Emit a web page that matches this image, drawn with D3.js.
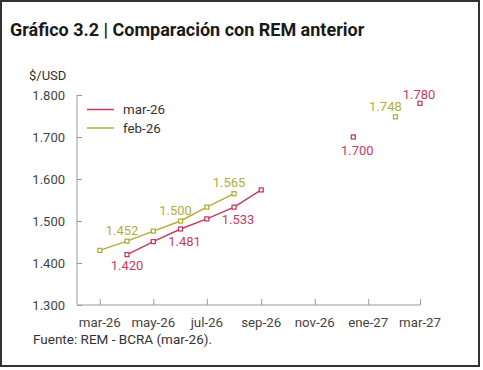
<!DOCTYPE html>
<html>
<head>
<meta charset="utf-8">
<script src="https://cdn.jsdelivr.net/npm/d3@7.9.0/dist/d3.min.js"></script>
<style>
  body { margin: 0; background: #fff; }
  svg { display: block; font-family: Roboto, "Noto Sans", sans-serif; }
</style>
</head>
<body>
<svg id="chart" width="483" height="370"></svg>
<script>
// month names used on the x axis
const monthNames = ['ene', 'feb', 'mar', 'abr', 'may', 'jun', 'jul', 'ago', 'sep', 'oct', 'nov', 'dic'];
const yTicks = [1300, 1400, 1500, 1600, 1700, 1800];

// REM mar-26: monthly path + annual points
const marDates = ['2026-04-01', '2026-05-01', '2026-06-01', '2026-07-01', '2026-08-01', '2026-09-01'];
const marValues = [1420, 1451, 1481, 1505, 1533, 1574];
const marExtraDates = ['2026-12-15', '2027-03-01'];
const marExtraValues = [1700, 1780];

// REM feb-26
const febDates = ['2026-03-01', '2026-04-01', '2026-05-01', '2026-06-01', '2026-07-01', '2026-08-01'];
const febValues = [1430, 1452, 1476, 1500, 1533, 1565];
const febExtraDates = ['2027-02-01'];
const febExtraValues = [1748];

// which points carry a value label
const marLabelIdx = [0, 2, 4];
const febLabelIdx = [1, 3, 5];

const crimson = '#c23d63';
const olive = '#b3ae38';

const parse = d3.timeParse('%Y-%m-%d');
const svg = d3.select('#chart');

// frame
svg.append('rect')
  .attr('x', 1).attr('y', 1).attr('width', 478).attr('height', 365)
  .attr('fill', '#fff').attr('stroke', '#333').attr('stroke-width', 2);

svg.append('text')
  .attr('x', 10).attr('y', 36)
  .attr('font-size', 18).attr('font-weight', 'bold').attr('fill', '#1a1a1a')
  .text('Gráfico 3.2 | Comparación con REM anterior');

const x = d3.scaleTime()
  .domain([parse('2026-02-03'), parse('2027-03-01')])
  .range([77, 420]);
const y = d3.scaleLinear().domain([1300, 1800]).range([305, 95]);

// y axis
const yAxis = svg.append('g').attr('transform', 'translate(77,0)')
  .call(d3.axisRight(y).tickValues(yTicks).tickSize(5).tickFormat(''));
yAxis.select('.domain').attr('stroke', '#999').attr('d', 'M0,95V305');
yAxis.selectAll('.tick line').attr('stroke', '#999');

svg.selectAll('.ylab').data(yTicks).join('text')
  .attr('class', 'ylab')
  .attr('x', 65).attr('y', d => y(d) + 4.5)
  .attr('text-anchor', 'end').attr('font-size', 13).attr('fill', '#444')
  .text(d => d3.format(',')(d).replace(',', '.'));

svg.append('text')
  .attr('x', 29).attr('y', 80)
  .attr('font-size', 13).attr('fill', '#333')
  .text('$/USD');

// x axis
const xAxis = svg.append('g').attr('transform', 'translate(0,305)')
  .call(d3.axisTop(x).ticks(d3.timeMonth.every(2)).tickSize(6).tickFormat(''));
xAxis.select('.domain').attr('stroke', '#999').attr('d', 'M77,0H420');
xAxis.selectAll('.tick line').attr('stroke', '#999');

const xTickDates = x.ticks(d3.timeMonth.every(2));
svg.selectAll('.xlab').data(xTickDates).join('text')
  .attr('class', 'xlab')
  .attr('x', d => x(d)).attr('y', 327)
  .attr('text-anchor', 'middle').attr('font-size', 13.3).attr('fill', '#444')
  .text(d => monthNames[d.getMonth()] + '-' + String(d.getFullYear()).slice(2));

// series
const line = d3.line().x(d => x(d[0])).y(d => y(d[1]));

function drawSeries(dates, values, extraDates, extraValues, color) {
  const pts = dates.map((d, i) => [parse(d), values[i]]);
  const extra = extraDates.map((d, i) => [parse(d), extraValues[i]]);
  svg.append('path').datum(pts)
    .attr('d', line).attr('fill', 'none')
    .attr('stroke', color).attr('stroke-width', 1.5);
  svg.append('g').selectAll('rect').data(pts.concat(extra)).join('rect')
    .attr('x', d => x(d[0]) - 2).attr('y', d => y(d[1]) - 2)
    .attr('width', 4).attr('height', 4)
    .attr('fill', '#fff').attr('stroke', color).attr('stroke-width', 1.3);
  return { pts, extra };
}

const mar = drawSeries(marDates, marValues, marExtraDates, marExtraValues, crimson);
const feb = drawSeries(febDates, febValues, febExtraDates, febExtraValues, olive);

const fmt = v => d3.format(',')(v).replace(',', '.');

function addLabel(p, color, dx, dy) {
  svg.append('text')
    .attr('x', x(p[0]) + dx).attr('y', y(p[1]) + dy)
    .attr('text-anchor', 'middle').attr('font-size', 13).attr('fill', color)
    .text(fmt(p[1]));
}

marLabelIdx.forEach(i => addLabel(mar.pts[i], crimson, i === 0 ? 0 : 4, i === 0 ? 15 : 17));
febLabelIdx.forEach(i => addLabel(feb.pts[i], olive, -5, -6.5));
addLabel(mar.extra[0], crimson, 4, 18);
addLabel(mar.extra[1], crimson, -1, -4.5);
addLabel(feb.extra[0], olive, -10, -6);

// legend
const legend = [['mar-26', crimson], ['feb-26', olive]];
legend.forEach(([name, color], i) => {
  const ly = 109.5 + i * 18.5;
  svg.append('line')
    .attr('x1', 87).attr('x2', 114).attr('y1', ly).attr('y2', ly)
    .attr('stroke', color).attr('stroke-width', 1.5);
  svg.append('text')
    .attr('x', 123).attr('y', ly + 4.5)
    .attr('font-size', 13.3).attr('fill', '#333')
    .text(name);
});

svg.append('text')
  .attr('x', 33).attr('y', 344)
  .attr('font-size', 13.5).attr('fill', '#333')
  .text('Fuente: REM - BCRA (mar-26).');
</script>
</body>
</html>
